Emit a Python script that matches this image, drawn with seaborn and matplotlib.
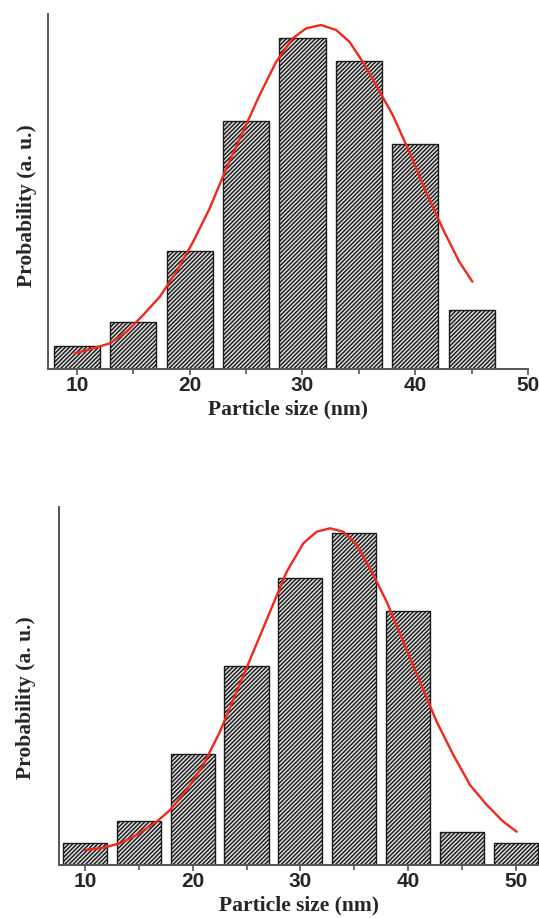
import matplotlib
matplotlib.use("Agg")
import matplotlib.pyplot as plt
from matplotlib.ticker import MultipleLocator
import seaborn as sns
import pandas as pd

# ---- data (arbitrary units) ----
sizes_a = [10, 15, 20, 25, 30, 35, 40, 45]
prob_a = [23, 47, 118, 248, 331, 308, 225, 59]
fit_x_a = [9.82, 11.45, 12.92, 14.4, 15.87, 17.35, 18.82, 20.3, 21.77, 23.25,
           24.72, 26.2, 27.67, 29.14, 30.33, 31.65, 32.98, 34.16, 35.34,
           36.52, 38.0, 39.47, 40.95, 42.42, 43.9, 45.07]
fit_y_a = [15.7, 20.7, 25.7, 37.3, 54, 72.3, 97.3, 127.3, 160.7, 200.7,
           237.3, 274, 307.3, 330.7, 340.7, 344, 339, 327.3, 307.3,
           284, 254, 217.3, 177.3, 140.7, 107.3, 87.3]

sizes_b = [10, 15, 20, 25, 30, 35, 40, 45, 50]
prob_b = [22, 44, 111, 199, 287, 332, 254, 33, 22]
fit_x_b = [10.0, 11.7, 13.25, 14.8, 16.66, 17.9, 19.44, 20.98, 22.53, 24.08,
           25.63, 27.18, 28.73, 30.27, 31.51, 32.75, 33.98, 35.23, 36.46,
           38.01, 39.55, 41.1, 42.65, 44.2, 45.75, 47.3, 48.84, 50.08]
fit_y_b = [15, 17.3, 21.7, 30, 43.3, 55, 75, 100, 133.3, 173.3,
           213.3, 253.3, 293.3, 321.7, 333.3, 336.7, 333.3, 320, 296.7,
           263.3, 223.3, 183.3, 143.3, 110, 80, 60, 43.3, 33.3]

tick_vals = [10, 20, 30, 40, 50]
xlabel = "Particle size (nm)"
ylabel = "Probability (a. u.)"

# ---- style ----
sns.set_theme(style="white")
plt.rcParams["font.family"] = ["Liberation Sans", "DejaVu Sans"]
plt.rcParams["hatch.linewidth"] = 1.05

W, H = 539, 918
fig = plt.figure(figsize=(W / 100, H / 100), dpi=100)

axes_specs = [
    (sizes_a, prob_a, fit_x_a, fit_y_a, [48 / W, 1 - 369 / H, 480 / W, 355 / H],
     (7.43, 49.9), 355, ((37 - 48) / 480, (369 - 206) / 355)),
    (sizes_b, prob_b, fit_x_b, fit_y_b, [59 / W, 1 - 865 / H, 480 / W, 358 / H],
     (7.59, 52.15), 358, ((36 - 59) / 480, (865 - 698) / 358)),
]

red = "#f2281c"
spine_col = "#555555"

for sz, pr, fx, fy, rect, xl, ytop, lab_xy in axes_specs:
    ax = fig.add_axes(rect)
    df = pd.DataFrame({"size": sz, "prob": pr})
    sns.barplot(data=df, x="size", y="prob", native_scale=True, width=0.82,
                color="#e0e0e0", saturation=1, edgecolor="#1a1a1a",
                linewidth=1.0, hatch="////////", errorbar=None, ax=ax)
    fd = pd.DataFrame({"x": fx, "y": fy})
    sns.lineplot(data=fd, x="x", y="y", color=red, linewidth=1.7,
                 sort=False, estimator=None, ax=ax)
    ax.set_xlim(*xl)
    ax.set_ylim(0, ytop)
    ax.set_yticks([])
    ax.xaxis.set_major_locator(MultipleLocator(10))
    ax.xaxis.set_minor_locator(MultipleLocator(5))
    ax.set_xticks(tick_vals)
    ax.set_xticklabels([str(t) for t in tick_vals], fontweight="bold", fontsize=15)
    ax.tick_params(axis="x", which="major", direction="out", length=4,
                   width=1.2, color=spine_col, pad=1, bottom=True)
    ax.tick_params(axis="x", which="minor", direction="out", length=3.5,
                   width=1.2, color=spine_col, bottom=True)
    for s in ["top", "right"]:
        ax.spines[s].set_visible(False)
    for s in ["left", "bottom"]:
        ax.spines[s].set_color(spine_col)
        ax.spines[s].set_linewidth(1.4)
    ax.set_xlabel(xlabel, family=["Liberation Serif", "DejaVu Serif"],
                  fontweight="bold", fontsize=15.5, labelpad=3)
    ax.set_ylabel(ylabel, family=["Liberation Serif", "DejaVu Serif"],
                  fontweight="bold", fontsize=15.5)
    ax.yaxis.set_label_coords(*lab_xy)
    ax.patch.set_alpha(0)

fig.savefig("out.png", dpi=100)
